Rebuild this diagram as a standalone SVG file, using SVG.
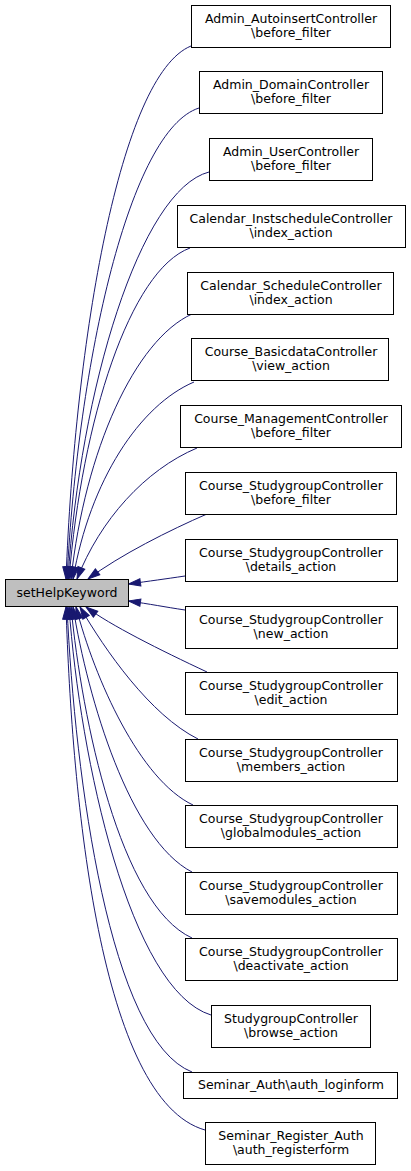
<svg xmlns="http://www.w3.org/2000/svg" width="411" height="1171" viewBox="0 0 411 1171">
<style>
.n rect{fill:#ffffff;stroke:#000000;stroke-width:1}
.m rect{fill:#bfbfbf;stroke:#000000;stroke-width:1}
text{font-family:"DejaVu Sans","Liberation Sans",sans-serif;font-size:12.5px;fill:#000000;text-anchor:middle}
.e path{fill:none;stroke:#191970;stroke-width:1;marker-end:url(#ah)}
</style>
<defs>
<marker id="ah" markerUnits="userSpaceOnUse" markerWidth="14" markerHeight="10" refX="12" refY="5" orient="auto" overflow="visible">
<path d="M0,1.3 L12,5 L0,8.7 Z" fill="#191970" stroke="#191970" stroke-width="1"/>
</marker>
</defs>
<rect width="411" height="1171" fill="#ffffff"/>
<g id="edges" class="e">
<path d="M191,46 C120,75 75,340 66,579"/>
<path d="M199,108 C130,130 78,360 67,579"/>
<path d="M209,172 C140,190 80,390 68,579"/>
<path d="M190,248 C130,270 82,420 69,579"/>
<path d="M192,314 C135,340 85,450 71,579"/>
<path d="M194,382 C140,405 90,480 73,579"/>
<path d="M197,448 C145,470 100,520 77,579"/>
<path d="M207,514 C170,530 120,555 88,579"/>
<path d="M185,576 C165,579 150,581 128.5,584"/>
<path d="M185,610 C165,607 150,604 128.5,601"/>
<path d="M207,672 C160,650 110,625 86,607"/>
<path d="M198,739 C150,715 105,650 80,607"/>
<path d="M193,805 C140,780 95,680 76,607"/>
<path d="M192,872 C130,840 88,700 73,607"/>
<path d="M192,938 C120,905 82,720 71,607"/>
<path d="M211,1015 C130,990 80,760 69,607"/>
<path d="M192,1072 C110,1040 75,780 67,607"/>
<path d="M205,1130 C100,1100 72,800 66,607"/>
</g>
<g id="setHelpKeyword" class="m"><rect x="5.5" y="579.5" width="123" height="27"/><text x="67" y="597">setHelpKeyword</text></g>
<g id="n0" class="n"><rect x="191.5" y="5.5" width="199" height="42"/><text x="291" y="22.5">Admin_AutoinsertController</text><text x="291" y="37">\before_filter</text></g>
<g id="n1" class="n"><rect x="199.5" y="71.5" width="183" height="42"/><text x="291" y="88.5">Admin_DomainController</text><text x="291" y="103">\before_filter</text></g>
<g id="n2" class="n"><rect x="209.5" y="138.5" width="163" height="42"/><text x="291" y="155.5">Admin_UserController</text><text x="291" y="170">\before_filter</text></g>
<g id="n3" class="n"><rect x="177.5" y="205.5" width="228" height="42"/><text x="291" y="222.5">Calendar_InstscheduleController</text><text x="291" y="237">\index_action</text></g>
<g id="n4" class="n"><rect x="187.5" y="272.5" width="206" height="42"/><text x="291" y="289.5">Calendar_ScheduleController</text><text x="291" y="304">\index_action</text></g>
<g id="n5" class="n"><rect x="191.5" y="338.5" width="197" height="42"/><text x="291" y="355.5">Course_BasicdataController</text><text x="291" y="370">\view_action</text></g>
<g id="n6" class="n"><rect x="180.5" y="405.5" width="221" height="42"/><text x="291" y="422.5">Course_ManagementController</text><text x="291" y="437">\before_filter</text></g>
<g id="n7" class="n"><rect x="185.5" y="472.5" width="211" height="42"/><text x="291" y="489.5">Course_StudygroupController</text><text x="291" y="504">\before_filter</text></g>
<g id="n8" class="n"><rect x="185.5" y="539.5" width="212" height="42"/><text x="291" y="556.5">Course_StudygroupController</text><text x="291" y="571">\details_action</text></g>
<g id="n9" class="n"><rect x="185.5" y="606.5" width="212" height="42"/><text x="291" y="623.5">Course_StudygroupController</text><text x="291" y="638">\new_action</text></g>
<g id="n10" class="n"><rect x="185.5" y="672.5" width="212" height="42"/><text x="291" y="689.5">Course_StudygroupController</text><text x="291" y="704">\edit_action</text></g>
<g id="n11" class="n"><rect x="185.5" y="739.5" width="212" height="42"/><text x="291" y="756.5">Course_StudygroupController</text><text x="291" y="771">\members_action</text></g>
<g id="n12" class="n"><rect x="185.5" y="805.5" width="212" height="42"/><text x="291" y="822.5">Course_StudygroupController</text><text x="291" y="837">\globalmodules_action</text></g>
<g id="n13" class="n"><rect x="185.5" y="872.5" width="212" height="42"/><text x="291" y="889.5">Course_StudygroupController</text><text x="291" y="904">\savemodules_action</text></g>
<g id="n14" class="n"><rect x="185.5" y="938.5" width="212" height="42"/><text x="291" y="955.5">Course_StudygroupController</text><text x="291" y="970">\deactivate_action</text></g>
<g id="n15" class="n"><rect x="211.5" y="1005.5" width="159" height="42"/><text x="291" y="1022.5">StudygroupController</text><text x="291" y="1037">\browse_action</text></g>
<g id="n16" class="n"><rect x="183.5" y="1072.5" width="214" height="26"/><text x="291" y="1089">Seminar_Auth\auth_loginform</text></g>
<g id="n17" class="n"><rect x="205.5" y="1122.5" width="170" height="42"/><text x="291" y="1139.5">Seminar_Register_Auth</text><text x="291" y="1154">\auth_registerform</text></g>
</svg>
